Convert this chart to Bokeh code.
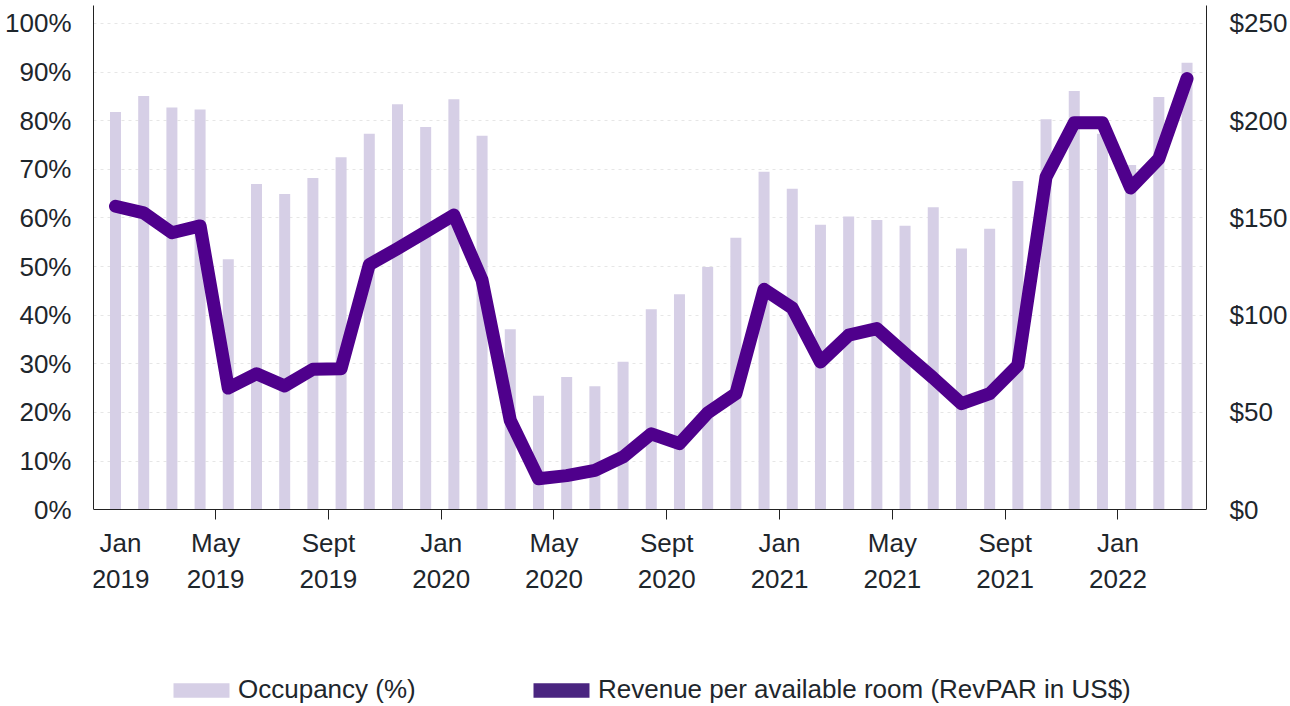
import numpy as np
from bokeh.plotting import figure
from bokeh.models import (Range1d, LinearAxis, FixedTicker, Legend, LegendItem,
                          ColumnDataSource)
from bokeh.embed import file_html
from bokeh.resources import INLINE

# ---------------- data ----------------
months = ["Jan 2019", "Feb 2019", "Mar 2019", "Apr 2019", "May 2019", "Jun 2019",
          "Jul 2019", "Aug 2019", "Sep 2019", "Oct 2019", "Nov 2019", "Dec 2019",
          "Jan 2020", "Feb 2020", "Mar 2020", "Apr 2020", "May 2020", "Jun 2020",
          "Jul 2020", "Aug 2020", "Sep 2020", "Oct 2020", "Nov 2020", "Dec 2020",
          "Jan 2021", "Feb 2021", "Mar 2021", "Apr 2021", "May 2021", "Jun 2021",
          "Jul 2021", "Aug 2021", "Sep 2021", "Oct 2021", "Nov 2021", "Dec 2021",
          "Jan 2022", "Feb 2022", "Mar 2022"]

occupancy = [81.8, 85.1, 82.7, 82.3, 51.5, 67.0, 64.9, 68.2, 72.5, 77.3, 83.4, 78.7,
             84.4, 76.9, 37.1, 23.4, 27.3, 25.4, 30.4, 41.2, 44.3, 49.9, 55.9, 69.5,
             66.0, 58.6, 60.3, 59.6, 58.4, 62.2, 53.7, 57.8, 67.6, 80.3, 86.1, 77.3,
             70.9, 84.9, 91.9]

revpar = [156.0, 152.6, 142.4, 145.9, 62.5, 69.9, 63.6, 72.2, 72.5, 126.0, 134.2, 142.8,
          151.5, 118.0, 45.9, 15.9, 17.5, 20.2, 27.1, 39.0, 33.9, 49.8, 59.6, 113.3,
          103.7, 75.9, 89.7, 93.1, 80.2, 67.7, 54.5, 59.6, 74.2, 171.1, 198.9, 198.9,
          165.4, 180.5, 221.7]

# tick marks sit at month starts; the first label is nudged inside the chart
x_tick_months = [4, 8, 12, 16, 20, 24, 28, 32, 36]
x_label_positions = [0.63, 4, 8, 12, 16, 20, 24, 28, 32, 36]
x_tick_labels = ["Jan\n2019", "May\n2019", "Sept\n2019", "Jan\n2020", "May\n2020",
                 "Sept\n2020", "Jan\n2021", "May\n2021", "Sept\n2021", "Jan\n2022"]

occ_ticks = [0, 10, 20, 30, 40, 50, 60, 70, 80, 90, 100]
occ_tick_labels = ["0%", "10%", "20%", "30%", "40%", "50%", "60%", "70%", "80%", "90%", "100%"]
rev_ticks = [0, 50, 100, 150, 200, 250]
rev_tick_labels = ["$0", "$50", "$100", "$150", "$200", "$250"]

legend_labels = ["Occupancy (%)", "Revenue per available room (RevPAR in US$)"]

# ---------------- styling ----------------
FONT = "Liberation Sans"
FS = "26px"
TXT = "#1e262c"
AX = "#222222"
BAR = "#d6cfe6"
LINE = "#4f008c"
LEG2 = "#4a2580"

OCC_TOP = 103.7
OCC_BOTTOM = -40.5
REV_TOP = OCC_TOP * 2.5
REV_BOTTOM = OCC_BOTTOM * 2.5

xs = [i + 0.45 for i in range(len(months))]   # mid-month positions
src = ColumnDataSource(dict(x=xs, occ=occupancy, rev=revpar, month=months))

p = figure(width=1290, height=706, output_backend="svg", toolbar_location=None,
           x_range=Range1d(-0.33, 39.14), y_range=Range1d(OCC_BOTTOM, OCC_TOP),
           min_border_left=93, min_border_right=84, min_border_top=5,
           min_border_bottom=0)
p.outline_line_color = None
p.background_fill_color = "white"
p.border_fill_color = "white"
p.extra_y_ranges = {"rev": Range1d(REV_BOTTOM, REV_TOP)}

# grid
p.xgrid.grid_line_color = None
p.ygrid.ticker = FixedTicker(ticks=occ_ticks[1:])
p.ygrid.grid_line_color = "#e6e6e6"
p.ygrid.grid_line_dash = "3 4"
p.ygrid.grid_line_width = 1

# bars
bars = p.vbar(x="x", top="occ", width=0.39, bottom=0, source=src,
              fill_color=BAR, line_color=None)

# line
line = p.line(x="x", y="rev", source=src, y_range_name="rev", line_width=13,
              line_color=LINE, line_join="round", line_cap="round")

# placeholder renderer (draws nothing) that supplies the second legend swatch
swatch_src = ColumnDataSource(dict(x=np.array([np.nan]), top=np.array([np.nan])))
dummy = p.vbar(x="x", top="top", width=0.39, source=swatch_src,
               fill_color=LEG2, line_color=None)

# x axis A: axis line + tick marks, fixed at y = 0
xa = p.xaxis[0]
xa.fixed_location = 0
xa.ticker = FixedTicker(ticks=x_tick_months)
xa.major_label_overrides = {m: "" for m in x_tick_months}
xa.major_tick_out = 10
xa.major_tick_in = 0
xa.minor_tick_line_color = None
xa.major_tick_line_color = AX
xa.axis_line_color = AX

# x axis B: labels only
xb = LinearAxis(ticker=FixedTicker(ticks=x_label_positions), fixed_location=0)
xb.major_label_overrides = {m: lab for m, lab in zip(x_label_positions, x_tick_labels)}
xb.major_tick_out = 10
xb.major_tick_in = 0
xb.major_tick_line_color = None
xb.minor_tick_line_color = None
xb.axis_line_color = None
xb.major_label_standoff = 8
xb.major_label_text_font = FONT
xb.major_label_text_font_size = FS
xb.major_label_text_color = TXT
p.add_layout(xb, "below")

# left axis
ya = p.yaxis[0]
ya.bounds = (0, OCC_TOP)
ya.ticker = FixedTicker(ticks=occ_ticks)
ya.major_label_overrides = {t: l for t, l in zip(occ_ticks, occ_tick_labels)}
ya.major_tick_line_color = None
ya.minor_tick_line_color = None
ya.major_tick_out = 0
ya.major_tick_in = 0
ya.axis_line_color = AX
ya.major_label_standoff = 22
ya.major_label_text_font = FONT
ya.major_label_text_font_size = FS
ya.major_label_text_color = TXT

# right axis
ra = LinearAxis(y_range_name="rev", ticker=FixedTicker(ticks=rev_ticks), bounds=(0, REV_TOP))
ra.major_label_overrides = {t: l for t, l in zip(rev_ticks, rev_tick_labels)}
ra.major_tick_line_color = None
ra.minor_tick_line_color = None
ra.major_tick_out = 0
ra.major_tick_in = 0
ra.axis_line_color = AX
ra.major_label_standoff = 23
ra.major_label_text_font = FONT
ra.major_label_text_font_size = FS
ra.major_label_text_color = TXT
p.add_layout(ra, "right")

# legends (two single-item legends placed at the bottom)
def make_legend(label, renderer, loc):
    lg = Legend(items=[LegendItem(label=label, renderers=[renderer])],
                location=loc, orientation="horizontal")
    lg.glyph_width = 70
    lg.glyph_height = 18
    lg.label_standoff = 2
    lg.padding = 0
    lg.margin = 0
    lg.border_line_color = None
    lg.background_fill_alpha = 0
    lg.label_text_font = FONT
    lg.label_text_font_size = FS
    lg.label_text_color = TXT
    return lg

p.add_layout(make_legend(legend_labels[0], bars, (73, 1)))
p.add_layout(make_legend(legend_labels[1], dummy, (433, 1)))

open("out.html", "w").write(file_html(p, INLINE))
